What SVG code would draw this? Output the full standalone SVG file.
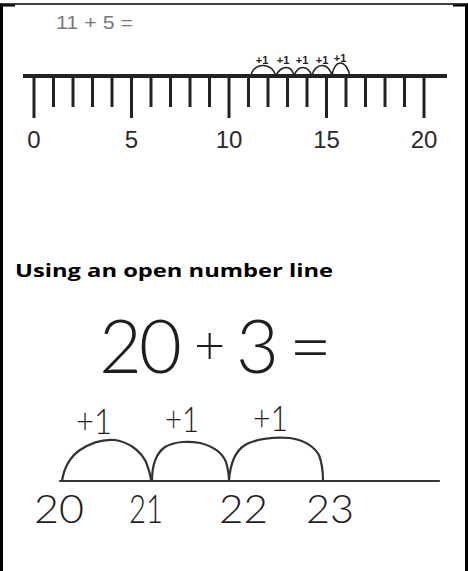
<svg xmlns="http://www.w3.org/2000/svg" width="468" height="571" viewBox="0 0 468 571">
<style>
.frame{stroke:#000;fill:none}
.axis{stroke:#222;stroke-width:4;fill:none}
.tick{stroke:#222;stroke-width:3}
.hop{stroke:#222;stroke-width:1.6;fill:none}
.num{font-family:"Liberation Sans",Arial,sans-serif;font-size:24px;fill:#2a2a2a;text-anchor:middle}
.sm{font-family:"Liberation Sans",Arial,sans-serif;font-size:11px;font-weight:bold;fill:#222;text-anchor:middle}
.hand{font-family:Lato,"Open Sans",sans-serif;font-weight:300;fill:#1e1e1e}
.hline{stroke:#333;stroke-width:2.2;fill:none;stroke-linecap:round}
</style>
<rect width="468" height="571" fill="#fff"/>
<g id="frame">
<line class="frame" x1="0" y1="4" x2="468" y2="4" stroke-width="1.5"/>
<line class="frame" x1="0" y1="5.5" x2="15" y2="5.5" stroke-width="2"/>
<line class="frame" x1="453" y1="5.5" x2="468" y2="5.5" stroke-width="2"/>
<line class="frame" x1="1.5" y1="4" x2="1.5" y2="571" stroke-width="3"/>
<line class="frame" x1="466.5" y1="4" x2="466.5" y2="571" stroke-width="3"/>
</g>
<g id="numberline-top">
<text x="56" y="29" font-family="Liberation Sans,Arial,sans-serif" font-size="19" fill="#7a7a7a" textLength="77" lengthAdjust="spacingAndGlyphs">11 + 5 =</text>
<line class="axis" x1="23" y1="76" x2="447" y2="76"/>
<g class="tick">
<line x1="34" y1="76" x2="34" y2="118"/>
<line x1="53.5" y1="76" x2="53.5" y2="107"/>
<line x1="73" y1="76" x2="73" y2="107"/>
<line x1="92.5" y1="76" x2="92.5" y2="107"/>
<line x1="112" y1="76" x2="112" y2="107"/>
<line x1="131.5" y1="76" x2="131.5" y2="118"/>
<line x1="151" y1="76" x2="151" y2="107"/>
<line x1="170.5" y1="76" x2="170.5" y2="107"/>
<line x1="190" y1="76" x2="190" y2="107"/>
<line x1="209.5" y1="76" x2="209.5" y2="107"/>
<line x1="229" y1="76" x2="229" y2="118"/>
<line x1="248.5" y1="76" x2="248.5" y2="107"/>
<line x1="268" y1="76" x2="268" y2="107"/>
<line x1="287.5" y1="76" x2="287.5" y2="107"/>
<line x1="307" y1="76" x2="307" y2="107"/>
<line x1="326.5" y1="76" x2="326.5" y2="118"/>
<line x1="346" y1="76" x2="346" y2="107"/>
<line x1="365.5" y1="76" x2="365.5" y2="107"/>
<line x1="385" y1="76" x2="385" y2="107"/>
<line x1="404.5" y1="76" x2="404.5" y2="107"/>
<line x1="424" y1="76" x2="424" y2="118"/>
</g>
<text class="num" x="34" y="148">0</text>
<text class="num" x="131.5" y="148">5</text>
<text class="num" x="229" y="148">10</text>
<text class="num" x="326.5" y="148">15</text>
<text class="num" x="424" y="148">20</text>
<g id="hops-top">
<path class="hop" d="M251,76 C252,68 259,65 264,65.5 C270,66 274,70 276,76"/>
<path class="hop" d="M276,76 C278,70 283,67.5 286,67.5 C290,67.5 293,71 294,76"/>
<path class="hop" d="M294,76 C296,70 300,67.5 303,67.5 C307,67.5 310,71 312,76"/>
<path class="hop" d="M312,76 C313,69 318,65.5 322,65.5 C327,65.5 331,70 332,76"/>
<path class="hop" d="M332,76 C333,67 337,63 340,63 C345,63 349,69 350,77"/>
<text class="sm" x="262" y="64">+1</text>
<text class="sm" x="283" y="64">+1</text>
<text class="sm" x="302" y="64">+1</text>
<text class="sm" x="322" y="64">+1</text>
<text class="sm" x="340" y="62">+1</text>
</g>
</g>
<g id="heading">
<text x="15" y="277" font-family="Open Sans,Liberation Sans,sans-serif" font-weight="bold" font-size="18" fill="#000" textLength="318" lengthAdjust="spacingAndGlyphs">Using an open number line</text>
</g>
<g id="equation">
<text class="hand" y="373" font-size="74"><tspan x="99">2</tspan><tspan x="139">0</tspan></text>
<text class="hand" x="194" y="364" font-size="54">+</text>
<text class="hand" y="373" font-size="74"><tspan x="236">3</tspan><tspan x="289">=</tspan></text>
</g>
<g id="open-line">
<line class="hline" x1="60" y1="481" x2="439" y2="481"/>
<path class="hline" d="M62,481 C64,468 70,457 80,450 C92,442 105,439 115,440 C128,442 140,450 146,462 C149,470 151,476 151,481"/>
<path class="hline" d="M152,481 C152,468 155,454 165,447 C175,441 190,441 200,443 C212,446 222,452 226,462 C228,469 229,475 229,481"/>
<path class="hline" d="M229,481 C230,466 234,452 245,445 C258,438 275,437 290,438 C303,440 313,445 319,455 C322,463 323,472 323,481"/>
<text class="hand" x="76" y="434" font-size="36" textLength="36" lengthAdjust="spacingAndGlyphs">+1</text>
<text class="hand" x="165" y="432" font-size="36" textLength="34" lengthAdjust="spacingAndGlyphs">+1</text>
<text class="hand" x="253" y="431" font-size="36" textLength="35" lengthAdjust="spacingAndGlyphs">+1</text>
<text class="hand" x="34" y="523" font-size="39" textLength="50" lengthAdjust="spacingAndGlyphs">20</text>
<text class="hand" x="129" y="523" font-size="39" textLength="34" lengthAdjust="spacingAndGlyphs">21</text>
<text class="hand" x="219" y="523" font-size="39" textLength="49" lengthAdjust="spacingAndGlyphs">22</text>
<text class="hand" x="306" y="523" font-size="39" textLength="48" lengthAdjust="spacingAndGlyphs">23</text>
</g>
</svg>
